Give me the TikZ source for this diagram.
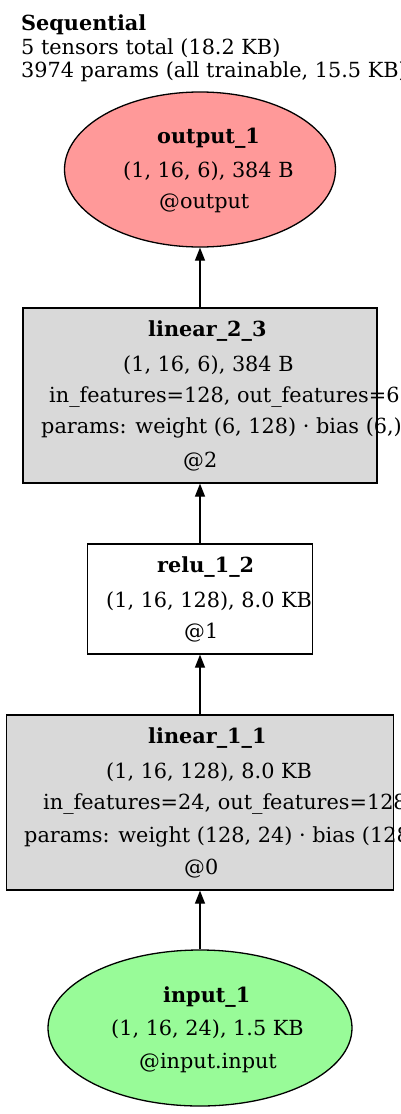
\documentclass[tikz,border=0pt]{standalone}
\usepackage{fontspec}
\setmainfont{DejaVu Serif}
\usetikzlibrary{shapes.geometric,arrows.meta}
\definecolor{outred}{HTML}{FF9999}
\definecolor{ingreen}{HTML}{98FB98}
\definecolor{layergray}{HTML}{D9D9D9}

\begin{document}
\begin{tikzpicture}[x=1pt,y=-1pt,
  lbl/.style={anchor=base west,inner sep=0pt,font=\fontsize{20.8}{24}\selectfont},
  blob/.style={ellipse,draw,line width=1.3pt,inner sep=0pt},
  layer/.style={rectangle,draw,line width=1.3pt,inner sep=0pt},
  flow/.style={line width=1.3pt,-{Triangle[length=13pt,width=10pt]}}]
\useasboundingbox (0,0) rectangle (400,1114);
\clip (0,0) rectangle (400,1114);

\node[lbl] (title) at (21,30) {\bfseries Sequential};
\node[lbl] (tensors) at (21,54) {5 tensors total (18.2 KB)};
\node[lbl] (params) at (21,77) {3974 params (all trainable, 15.5 KB)};

\node[blob,fill=outred,minimum width=271pt,minimum height=155pt] (out) at (200,169.5) {};
\node[layer,fill=layergray,minimum width=354pt,minimum height=175pt] (lin2) at (200,395.5) {};
\node[layer,fill=white,minimum width=225pt,minimum height=110pt] (relu) at (200,599) {};
\node[layer,fill=layergray,minimum width=387pt,minimum height=175pt] (lin1) at (200,802.5) {};
\node[blob,fill=ingreen,minimum width=304pt,minimum height=156pt] (in) at (200,1028) {};

\draw[flow] (lin2.north) -- (out.south);
\draw[flow] (relu.north) -- (lin2.south);
\draw[flow] (lin1.north) -- (relu.south);
\draw[flow] (in.north) -- (lin1.south);

%labels inside the nodes
\node[lbl] (out1) at (157,143) {\bfseries output\_1};
\node[lbl] (out2) at (123,177) {(1, 16, 6), 384 B};
\node[lbl] (out3) at (159,208) {@output};

\node[lbl] (lin21) at (148,336) {\bfseries linear\_2\_3};
\node[lbl] (lin22) at (123,371) {(1, 16, 6), 384 B};
\node[lbl] (lin23) at (49,402) {in\_features=128, out\_features=6};
\node[lbl] (lin24) at (41,433) {params: weight (6, 128) · bias (6,)};
\node[lbl] (lin25) at (183,467) {@2};

\node[lbl] (relu1) at (157,572) {\bfseries relu\_1\_2};
\node[lbl] (relu2) at (106,607) {(1, 16, 128), 8.0 KB};
\node[lbl] (relu3) at (184,638) {@1};

\node[lbl] (lin11) at (148,743) {\bfseries linear\_1\_1};
\node[lbl] (lin12) at (106,778) {(1, 16, 128), 8.0 KB};
\node[lbl] (lin13) at (43,809) {in\_features=24, out\_features=128};
\node[lbl] (lin14) at (24,842) {params: weight (128, 24) · bias (128,)};
\node[lbl] (lin15) at (184,874) {@0};

\node[lbl] (in1) at (163,1002) {\bfseries input\_1};
\node[lbl] (in2) at (111,1035) {(1, 16, 24), 1.5 KB};
\node[lbl] (in3) at (139,1068) {@input.input};
\end{tikzpicture}
\end{document}
